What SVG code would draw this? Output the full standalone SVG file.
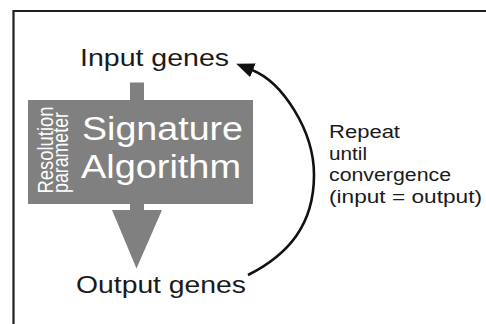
<svg xmlns="http://www.w3.org/2000/svg" width="486" height="324" viewBox="0 0 486 324">
  <defs>
    <style>
      .lbl { font-family: "Liberation Sans", Arial, Helvetica, sans-serif; fill: #1a1a1a; }
      .wht { font-family: "Liberation Sans", Arial, Helvetica, sans-serif; fill: #ffffff; }
      .gray { fill: #808080; }
      .frame { stroke: #231f20; stroke-width: 2.2; fill: none; }
      .loop { stroke: #111111; stroke-width: 2.6; fill: none; }
    </style>
    <marker id="head" markerUnits="userSpaceOnUse" markerWidth="20" markerHeight="16" viewBox="0 -8 20 16" refX="1" refY="0" orient="auto">
      <path d="M0,-7.5 L18,0 L0,7.5 z" fill="#111111"/>
    </marker>
  </defs>

  <rect width="486" height="324" fill="#ffffff"/>
  <path class="frame" d="M13.5,324 L13.5,11 L486,11"/>

  <g id="input-genes">
    <text class="lbl" x="80" y="65.5" font-size="23.4" textLength="149" lengthAdjust="spacingAndGlyphs">Input genes</text>
  </g>

  <g id="signature-algorithm">
    <rect class="gray" x="130" y="82.5" width="14" height="20"/>
    <rect class="gray" x="28" y="100" width="225" height="104"/>
    <rect class="gray" x="130" y="202" width="14" height="9"/>
    <polygon class="gray" points="112,210 162,210 136.5,268.5"/>
    <text class="wht" x="82" y="140" font-size="34" textLength="161" lengthAdjust="spacingAndGlyphs">Signature</text>
    <text class="wht" x="81" y="178" font-size="34" textLength="160" lengthAdjust="spacingAndGlyphs">Algorithm</text>
    <text class="wht" font-size="18" textLength="87" lengthAdjust="spacingAndGlyphs" transform="translate(52.5,193.5) rotate(-90) scale(1,1.2)" x="0" y="0">Resolution</text>
    <text class="wht" font-size="18" textLength="81" lengthAdjust="spacingAndGlyphs" transform="translate(67.5,193) rotate(-90) scale(1,1.2)" x="0" y="0">parameter</text>
  </g>

  <g id="output-genes">
    <text class="lbl" x="76" y="293" font-size="24" textLength="170" lengthAdjust="spacingAndGlyphs">Output genes</text>
  </g>

  <g id="repeat-label">
    <text class="lbl" x="329" y="138" font-size="17.5" textLength="71" lengthAdjust="spacingAndGlyphs">Repeat</text>
    <text class="lbl" x="329" y="159.5" font-size="17.5" textLength="38" lengthAdjust="spacingAndGlyphs">until</text>
    <text class="lbl" x="329" y="181" font-size="17.5" textLength="122" lengthAdjust="spacingAndGlyphs">convergence</text>
    <text class="lbl" x="329" y="202.5" font-size="17.5" textLength="153" lengthAdjust="spacingAndGlyphs">(input = output)</text>
  </g>

  <g id="connectors">
    <path class="loop" d="M248,275 C288,255 314,225 314,175 C314,130 282,82 252,70" marker-end="url(#head)"/>
  </g>
</svg>
